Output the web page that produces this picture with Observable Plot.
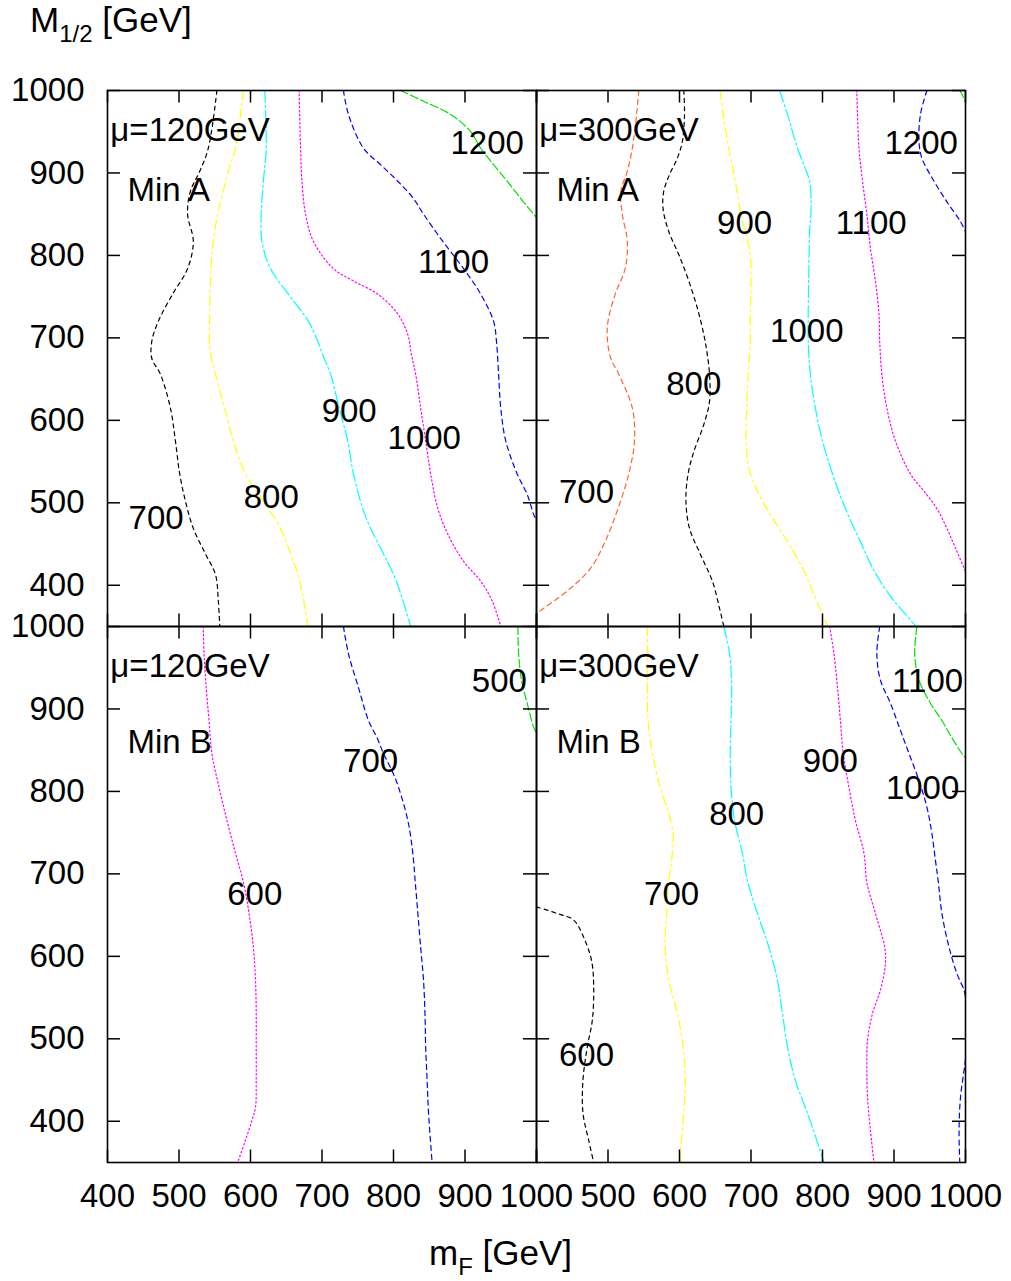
<!DOCTYPE html>
<html>
<head>
<meta charset="utf-8">
<script src="https://cdn.jsdelivr.net/npm/d3@7"></script>
<script src="https://cdn.jsdelivr.net/npm/@observablehq/plot@0.6"></script>
<style>
  body { margin: 0; background: #fff; font-family: "Liberation Sans", Arial, sans-serif; }
  #wrap { position: relative; width: 1011px; height: 1281px; }
  .ttl { position: absolute; font-size: 35px; line-height: 1.1; white-space: nowrap; color: #000; }
  .ttl sub { font-size: 24px; vertical-align: baseline; position: relative; top: 10px; }
</style>
</head>
<body>
<div id="wrap">
  <div id="chart"></div>
  <div class="ttl" style="left:30px;top:1px;">M<sub>1/2</sub> [GeV]</div>
  <div class="ttl" style="left:429px;top:1234px;">m<sub>F</sub> [GeV]</div>
</div>
<script>
// ---------- axes / categories ----------
const mus = ["120", "300"];
const mins = ["A", "B"];
const xTicks = [400, 500, 600, 700, 800, 900, 1000];
const yTicks = [400, 500, 600, 700, 800, 900, 1000];
const xLabelsLeft = [400, 500, 600, 700, 800, 900, 1000];
const xLabelsRight = [500, 600, 700, 800, 900, 1000];
const yLabels = [400, 500, 600, 700, 800, 900, 1000];

// ---------- contour lines [mF, M1/2] ----------
// mu = 120 GeV, Min A
const a120_700 = [[553,1000],[541,930],[529,902],[516,878],[512,850],[520,817],[512,784],[491,753],[471,720],[462,696],[462,675],[474,656],[488,615],[495,575],[501,535],[509,502],[520,469],[537,438],[551,413],[555,381],[557,350]];
const a120_800 = [[590,1000],[579,930],[569,902],[562,878],[554,850],[547,809],[544,769],[543,729],[543,687],[551,656],[564,615],[576,575],[593,535],[618,502],[642,469],[656,438],[669,405],[680,350]];
const a120_900 = [[620,1000],[622,930],[618,890],[615,850],[616,817],[628,784],[653,753],[681,720],[694,696],[703,675],[712,656],[724,615],[736,575],[744,535],[757,493],[768,469],[786,438],[804,405],[824,350]];
const a120_1000 = [[668,1000],[670,930],[672,890],[677,850],[688,817],[716,784],[744,769],[778,753],[806,729],[820,704],[825,680],[831,656],[838,615],[845,575],[852,535],[862,493],[876,462],[898,429],[922,405],[938,381],[950,350]];
const a120_1100 = [[730,1000],[737,971],[758,930],[782,910],[806,890],[828,869],[842,850],[869,817],[898,784],[922,753],[940,720],[944,696],[947,656],[950,615],[957,575],[973,535],[987,510],[996,486],[1000,478]];
const a120_1200 = [[810,1000],[842,987],[880,971],[908,950],[922,930],[940,910],[959,890],[978,869],[996,850],[1000,846]];
// mu = 300 GeV, Min A
const a300_700 = [[543,1000],[540,971],[534,930],[527,902],[518,878],[520,850],[527,817],[524,784],[510,753],[500,720],[499,700],[504,675],[515,656],[534,615],[537,575],[529,535],[514,493],[496,453],[476,421],[447,396],[410,372],[400,366]];
const a300_800 = [[606,1000],[607,971],[604,938],[597,918],[586,898],[578,878],[577,857],[585,829],[599,801],[613,769],[625,736],[634,704],[638,685],[642,656],[642,623],[634,595],[620,562],[612,535],[609,502],[614,469],[629,438],[646,405],[656,372],[662,350]];
const a300_900 = [[657,1000],[661,971],[669,930],[678,890],[686,850],[692,829],[699,801],[700,769],[699,729],[699,696],[696,656],[694,615],[693,575],[697,542],[709,514],[727,486],[751,453],[772,421],[788,389],[807,350]];
const a300_1000 = [[740,1000],[751,971],[765,930],[776,905],[782,890],[784,857],[782,829],[781,789],[780,729],[780,696],[783,656],[790,615],[800,575],[814,535],[832,493],[853,453],[870,421],[893,389],[916,365],[931,350]];
const a300_1100 = [[848,1000],[851,930],[856,890],[862,850],[867,809],[874,769],[879,729],[880,696],[883,656],[890,615],[902,575],[923,535],[942,514],[960,493],[974,469],[986,445],[998,421],[1000,417]];
const a300_1200 = [[946,1000],[937,971],[935,938],[939,918],[956,890],[974,865],[993,841],[1000,829]];
const a300_1300 = [[992,1000],[996,994],[1000,986]];
// mu = 120 GeV, Min B
const b120_500 = [[974,1000],[975,967],[979,935],[987,907],[996,878],[1000,871]];
const b120_600 = [[534,1000],[535,967],[538,926],[542,886],[546,846],[556,805],[567,765],[579,725],[590,690],[598,652],[604,611],[607,571],[608,531],[608,490],[608,450],[607,417],[602,401],[593,377],[582,350]];
const b120_700 = [[730,1000],[737,967],[751,926],[765,886],[777,865],[786,846],[798,825],[807,805],[820,765],[827,725],[831,684],[838,611],[842,571],[844,531],[845,490],[847,450],[849,410],[854,350]];
// mu = 300 GeV, Min B
const b300_600 = [[400,660],[429,652],[452,644],[466,623],[477,595],[480,562],[478,522],[471,490],[465,450],[465,410],[473,377],[480,350]];
const b300_700 = [[555,1000],[555,967],[555,926],[556,886],[562,846],[573,805],[585,773],[591,749],[590,725],[585,690],[582,652],[580,611],[585,571],[597,531],[605,490],[608,450],[606,410],[602,369],[601,350]];
const b300_800 = [[662,1000],[670,967],[673,926],[672,886],[671,846],[672,805],[677,765],[688,725],[695,692],[709,652],[725,611],[737,571],[744,531],[751,490],[762,450],[779,410],[795,369],[802,350]];
const b300_900 = [[810,1000],[816,967],[821,926],[825,886],[829,846],[837,805],[846,765],[858,725],[862,690],[874,652],[887,611],[888,591],[881,559],[870,531],[863,498],[862,466],[863,429],[867,389],[872,350]];
const b300_1000a = [[880,1000],[876,967],[881,935],[895,907],[909,874],[921,846],[935,813],[946,781],[953,749],[958,716],[962,690],[967,652],[977,611],[988,579],[998,559],[1000,551]];
const b300_1000b = [[1000,475],[999,468],[993,429],[991,389],[992,350]];
const b300_1100 = [[932,1000],[929,967],[935,935],[951,907],[967,886],[981,865],[995,846],[1000,841]];

// ---------- contour value labels [text, mF, M1/2] ----------
const labA120 = [["1200",931,936],["1100",884,792],["900",738,611],["1000",843,578],["800",629,507],["700",468,481]];
const labA300 = [["1200",938,936],["900",691,839],["1100",868,839],["1000",778,708],["800",620,644],["700",470,513]];
const labB120 = [["500",948,933],["700",768,836],["600",606,675]];
const labB300 = [["1100",947,933],["900",811,836],["1000",940,804],["800",680,772],["700",589,675],["600",470,480]];

// ---------- panel captions [mu, min, text, mF, M1/2] ----------
const captions = [
  ["120","A","μ=120GeV",404,952],["120","A","Min A",428,879],
  ["300","A","μ=300GeV",404,952],["300","A","Min A",428,879],
  ["120","B","μ=120GeV",404,952],["120","B","Min B",428,859],
  ["300","B","μ=300GeV",404,952],["300","B","Min B",428,859]
];

// ---------- styles ----------
const styles = {
  black:   {stroke: "#000000", dash: "4,4"},
  yellow:  {stroke: "#ffff00", dash: "9,4,2,4"},
  cyan:    {stroke: "#00ffff", dash: "12,3,2,3"},
  magenta: {stroke: "#ff00ff", dash: "1.5,2.5"},
  blue:    {stroke: "#0000ff", dash: "5,4"},
  green:   {stroke: "#00e000", dash: "8,3"},
  orange:  {stroke: "#ff6432", dash: "5,4"}
};

const series = [
  ["120","A","black",a120_700],["120","A","yellow",a120_800],["120","A","cyan",a120_900],
  ["120","A","magenta",a120_1000],["120","A","blue",a120_1100],["120","A","green",a120_1200],
  ["300","A","orange",a300_700],["300","A","black",a300_800],["300","A","yellow",a300_900],
  ["300","A","cyan",a300_1000],["300","A","magenta",a300_1100],["300","A","blue",a300_1200],["300","A","green",a300_1300],
  ["120","B","green",b120_500],["120","B","magenta",b120_600],["120","B","blue",b120_700],
  ["300","B","black",b300_600],["300","B","yellow",b300_700],["300","B","cyan",b300_800],
  ["300","B","magenta",b300_900],["300","B","blue",b300_1000a],["300","B","blue",b300_1000b],["300","B","green",b300_1100]
];

const rows = series.flatMap(([mu, min, style, pts], i) =>
  pts.map(([x, y]) => ({mu, min, style, id: i, x, y})));

const labelRows = [
  ...labA120.map(([t,x,y]) => ({mu:"120", min:"A", t, x, y})),
  ...labA300.map(([t,x,y]) => ({mu:"300", min:"A", t, x, y})),
  ...labB120.map(([t,x,y]) => ({mu:"120", min:"B", t, x, y})),
  ...labB300.map(([t,x,y]) => ({mu:"300", min:"B", t, x, y}))
];
const captionRows = captions.map(([mu, min, t, x, y]) => ({mu, min, t, x, y}));

const xLabelRows = [
  ...xLabelsLeft.map(v => ({mu:"120", min:"B", v})),
  ...xLabelsRight.map(v => ({mu:"300", min:"B", v}))
];
const yLabelRows = mins.flatMap(min => yLabels.map(v => ({mu:"120", min, v})));

// ---------- layout ----------
const W = 1011, H = 1281;
const mL = 107, mR = 46, mT = 89, mB = 119;
const facetW = (W - mL - mR) / 2, facetH = (H - mT - mB) / 2;
const tickLen = 13;
const FS = 33;

const lineMarks = Object.entries(styles).map(([k, s]) =>
  Plot.line(rows.filter(r => r.style === k), {
    x: "x", y: "y", z: "id", fx: "mu", fy: "min",
    stroke: s.stroke, strokeWidth: 1.2, strokeDasharray: s.dash,
    curve: "catmull-rom", clip: true
  }));

const chart = Plot.plot({
  width: W, height: H,
  marginLeft: mL, marginRight: mR, marginTop: mT, marginBottom: mB,
  x: {domain: [400, 1000], axis: null},
  y: {domain: [350, 1000], axis: null},
  fx: {domain: mus, padding: 0, axis: null},
  fy: {domain: mins, padding: 0, axis: null},
  style: {fontFamily: "'Liberation Sans', Arial, sans-serif", fontSize: "33px", background: "#fff", color: "#000"},
  marks: [
    ...lineMarks,
    Plot.frame({stroke: "#000", strokeWidth: 1.6}),
    Plot.tickX(xTicks, {x: d => d, insetBottom: facetH - tickLen, stroke: "#000", strokeWidth: 1.5}),
    Plot.tickX(xTicks, {x: d => d, insetTop: facetH - tickLen, stroke: "#000", strokeWidth: 1.5}),
    Plot.tickY(yTicks, {y: d => d, insetRight: facetW - tickLen, stroke: "#000", strokeWidth: 1.5}),
    Plot.tickY(yTicks, {y: d => d, insetLeft: facetW - tickLen, stroke: "#000", strokeWidth: 1.5}),
    Plot.text(labelRows, {x: "x", y: "y", text: "t", fx: "mu", fy: "min", fontSize: FS, fill: "#000"}),
    Plot.text(captionRows, {x: "x", y: "y", text: "t", fx: "mu", fy: "min", fontSize: FS, fill: "#000", textAnchor: "start"}),
    Plot.text(xLabelRows, {x: "v", text: d => String(d.v), fx: "mu", fy: "min", frameAnchor: "bottom", lineAnchor: "middle", dy: 34, fontSize: FS, fill: "#000"}),
    Plot.text(yLabelRows, {y: "v", text: d => String(d.v), fx: "mu", fy: "min", frameAnchor: "left", dx: -23, textAnchor: "end", fontSize: FS, fill: "#000"})
  ]
});
document.getElementById("chart").appendChild(chart);
</script>
</body>
</html>
